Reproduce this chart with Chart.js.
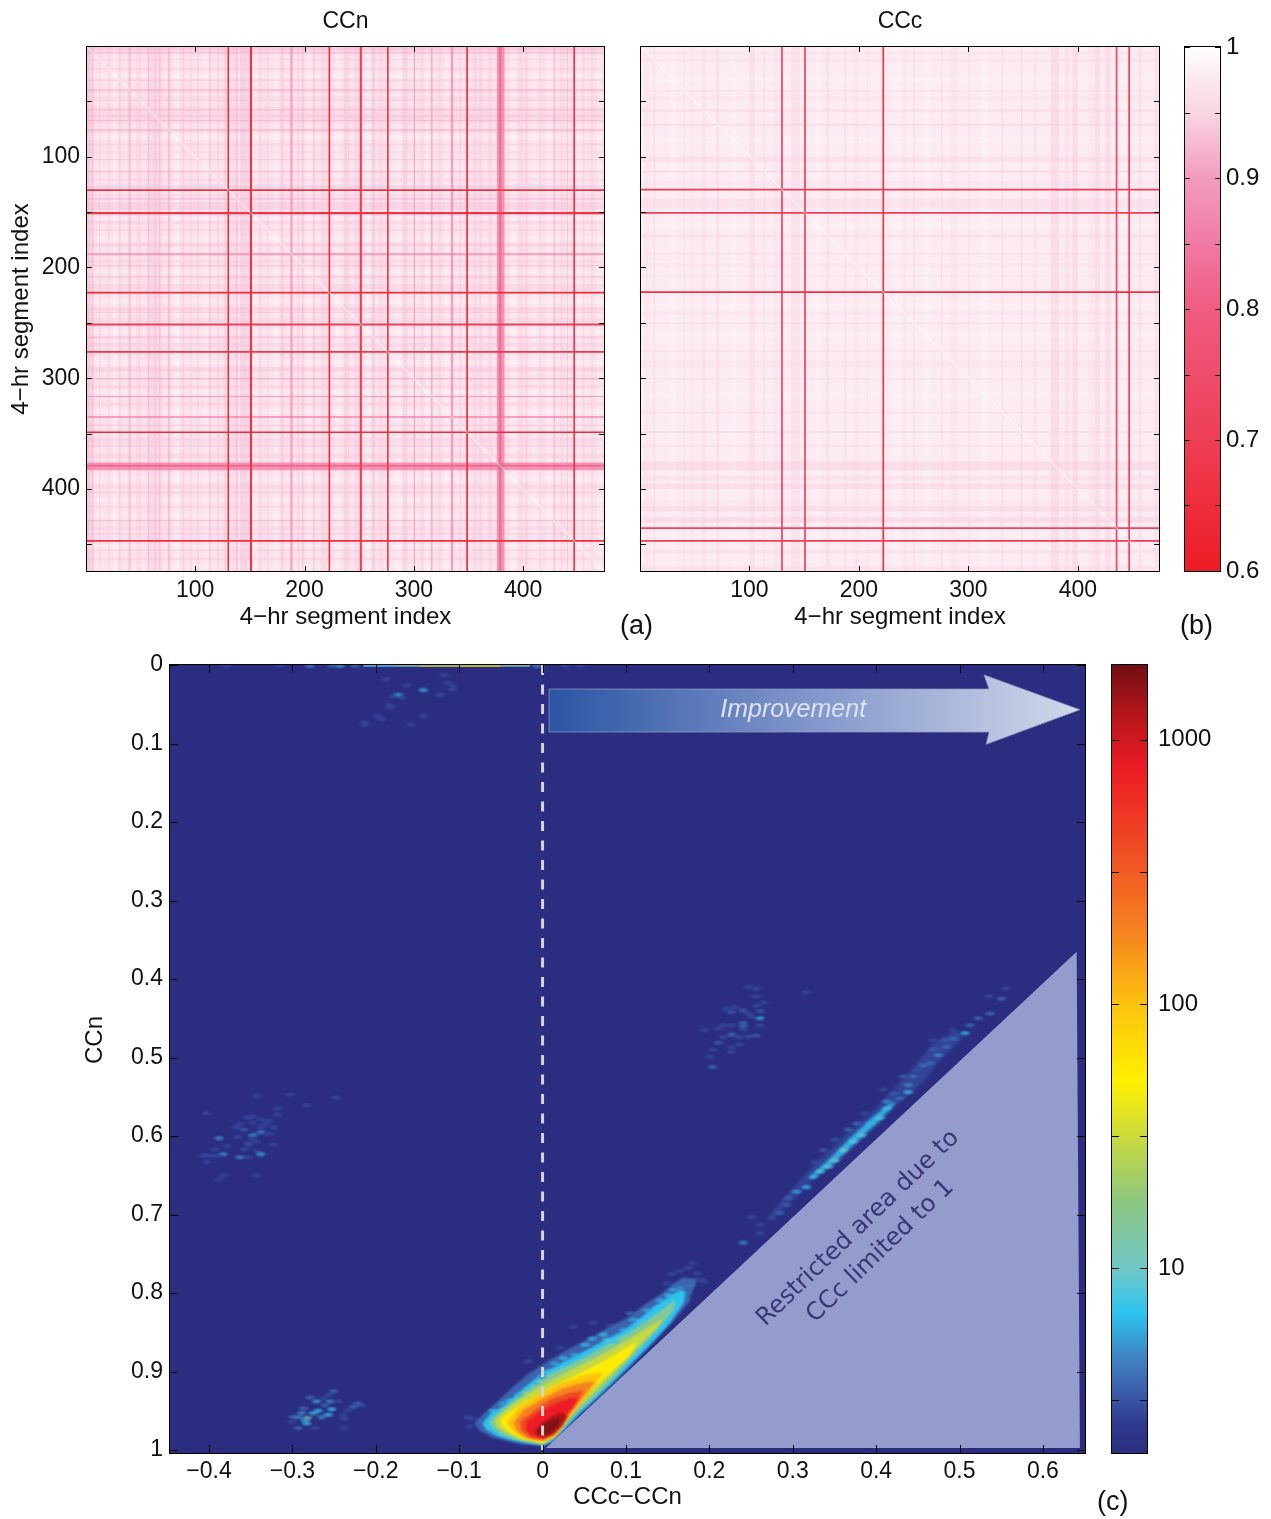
<!DOCTYPE html>
<html>
<head>
<meta charset="utf-8">
<title>CCn CCc</title>
<script src="https://cdn.jsdelivr.net/npm/chart.js@4"></script>
<style>
  body { margin: 0; background: #fff; width: 1271px; height: 1519px; position: relative; overflow: hidden; }
  canvas { position: absolute; }
  .tag { position: absolute; font: 27px 'Liberation Sans'; color: #111; }
</style>
</head>
<body>
<canvas id="chartN" width="612" height="640" style="left:0;top:0"></canvas>
<canvas id="chartC" width="548" height="640" style="left:620px;top:0"></canvas>
<canvas id="barTop" width="96" height="640" style="left:1175px;top:0"></canvas>
<canvas id="chartHist" width="1040" height="869" style="left:60px;top:650px"></canvas>
<canvas id="barLow" width="171" height="869" style="left:1100px;top:650px"></canvas>
<div class="tag" style="left:620px;top:610px">(a)</div>
<div class="tag" style="left:1180px;top:610px">(b)</div>
<div class="tag" style="left:1097px;top:1486px">(c)</div>

<script>
// ————————————————————————————
// DATA: correlation matrices (a) and (b)
// ————————————————————————————
const segMin = 1
const segMax = 474
const segTicksX = [100, 200, 300, 400]
const segTicksY = [50, 100, 150, 200, 250, 300, 350, 400, 450]
const segLabels = [100, 200, 300, 400]

// bad segments show up as stripes on the same index in rows and columns
const stripeStartN = [1, 5, 12, 20, 25, 30, 39, 46, 48, 55, 57, 62, 67, 75, 80, 88, 95, 102, 108, 113, 120, 126, 134, 137, 141, 154, 158, 165, 172, 178, 187, 193, 198, 203, 208, 215, 228, 236, 240, 246, 256, 262, 268, 283, 290, 300, 306, 311, 316, 322, 328, 334, 342, 354, 360, 368, 388, 396, 402, 408, 415, 422, 428, 434, 440, 450, 455, 462, 468, 376, 378, 129.5, 150, 222, 250.5, 275.5, 348, 446]
const stripeEndN   = [4, 7, 13, 22, 29, 32, 41, 47, 50, 70, 58, 65, 68, 77, 85, 90, 97, 103, 111, 114, 122, 128, 136, 139, 148, 157, 161, 167, 176, 181, 189, 196, 199, 206, 209, 220, 233, 239, 241, 249, 260, 264, 272, 288, 294, 301, 309, 314, 317, 325, 332, 336, 343, 358, 362, 372, 394, 400, 404, 412, 417, 426, 429, 437, 441, 453, 456, 464, 472, 383, 380, 131, 152, 223.5, 252.5, 277, 349.5, 447.5]
const stripeValN   = [.91, .9, .93, .94, .99, .93, .89, .94, .93, .945, .9, .93, .9, .89, .99, .93, .94, .92, .99, .89, .94, .93, .94, .91, .93, .99, .94, .94, .99, .93, .87, .94, .88, .99, .89, .94, .99, .93, .92, .94, .99, .91, .94, .99, .93, .87, .94, .99, .86, .94, .99, .86, .92, .94, .93, .94, .99, .94, .93, .99, .94, .99, .88, .94, .91, .99, .93, .94, .99, .84, .8, .66, .67, .64, .7, .68, .64, .66]

const stripeStartC = [5, 12, 28, 40, 46, 57, 70, 82, 100, 113, 122, 138, 160, 170, 187, 196, 207, 232, 240, 250, 258, 275, 284, 300, 312, 330, 348, 360, 375, 388, 395, 410, 415, 425, 440, 455, 470, 129, 150, 221.5, 434.5, 446]
const stripeEndC   = [8, 14, 33, 41, 49, 60, 72, 88, 105, 114, 126, 146, 165, 173, 188, 200, 208, 238, 243, 251, 264, 276, 290, 301, 318, 332, 349, 362, 383, 392, 400, 414, 420, 430, 444, 458, 474, 130.5, 151.5, 223, 436, 447.5]
const stripeValC   = [.96, .95, .99, .94, .96, .95, .94, .99, .95, .93, .96, .95, .99, .95, .94, .96, .95, .99, .96, .94, .99, .94, .96, .94, .99, .95, .93, .95, .94, .95, .94, .96, .94, .94, .99, .95, .95, .7, .7, .66, .72, .7]

const pinkVals = [0.6, 0.7, 0.8, 0.85, 0.9, 0.95, 0.975, 1]
const pinkCols = ['#ed1c24', '#ee3e55', '#ef5b80', '#f07aa5', '#f29cc0', '#f9d5e4', '#fbe8f0', '#ffffff']
const pinkTicks = [0.6, 0.65, 0.7, 0.75, 0.8, 0.85, 0.9, 0.95, 1]
const pinkLabels = [0.6, 0.7, 0.8, 0.9, 1]

// ————————————————————————————
// DATA: 2D histogram (c), [CCc-CCn, CCn] pairs
// ————————————————————————————
const histTicksX = [-0.4, -0.3, -0.2, -0.1, 0, 0.1, 0.2, 0.3, 0.4, 0.5, 0.6]
const histTicksY = [0, 0.1, 0.2, 0.3, 0.4, 0.5, 0.6, 0.7, 0.8, 0.9, 1]
const countVals = [2, 2.6, 3.2, 4.5, 6.8, 10, 18, 31, 51, 100, 190, 400, 770, 1300, 1919]
const countCols = ['#2b2d80', '#2e3a8e', '#3a55a5', '#3f80c0', '#2ec4f0', '#72c8c8', '#8dc880', '#c8da3e', '#fff100', '#fdc20f', '#f58220', '#ef4a24', '#ed1c24', '#b0151a', '#6d0f12']
const countTicks = [3.162, 10, 31.62, 100, 316.2, 1000]
const countLabels = [10, 100, 1000]

const plumeLevels = [3.6, 6.8, 15, 30, 55, 100, 190, 400, 770, 1300, 1700]
const plume3 = [[.001,.995],[-.025,.993],[-.04,.989],[-.06,.984],[-.075,.976],[-.082,.966],[-.072,.955],[-.056,.94],[-.037,.921],[-.017,.903],[.009,.885],[.03,.872],[.053,.86],[.077,.845],[.101,.832],[.121,.816],[.141,.802],[.155,.79],[.168,.78],[.186,.782],[.179,.8],[.176,.811],[.157,.836],[.127,.87],[.098,.902],[.069,.932],[.044,.955],[.025,.977],[.011,.99]]
const plume7 = [[.001,.994],[-.02,.991],[-.036,.988],[-.055,.982],[-.068,.974],[-.072,.966],[-.062,.953],[-.047,.944],[-.029,.927],[-.005,.906],[.021,.89],[.047,.876],[.073,.861],[.097,.848],[.117,.832],[.133,.818],[.149,.806],[.165,.796],[.172,.799],[.169,.813],[.152,.839],[.123,.872],[.093,.904],[.066,.932],[.043,.955],[.023,.977],[.01,.99]]
const plume15 = [[.001,.993],[-.017,.99],[-.032,.987],[-.05,.98],[-.06,.972],[-.064,.964],[-.054,.953],[-.039,.94],[-.021,.924],[.005,.905],[.031,.892],[.057,.878],[.081,.863],[.105,.849],[.125,.835],[.145,.82],[.159,.808],[.157,.822],[.142,.841],[.116,.872],[.089,.904],[.063,.932],[.039,.955],[.021,.977],[.008,.989]]
const plume30 = [[.001,.992],[-.015,.989],[-.029,.986],[-.045,.978],[-.055,.97],[-.057,.962],[-.047,.951],[-.031,.938],[-.013,.925],[.013,.91],[.037,.896],[.061,.884],[.085,.87],[.109,.855],[.129,.842],[.145,.832],[.137,.845],[.113,.87],[.085,.902],[.059,.93],[.035,.953],[.017,.976],[.006,.988]]
const plume55 = [[.001,.991],[-.013,.988],[-.025,.985],[-.04,.977],[-.05,.967],[-.05,.96],[-.037,.95],[-.02,.938],[-.007,.932],[.017,.917],[.045,.902],[.069,.889],[.097,.872],[.113,.862],[.105,.879],[.079,.904],[.055,.926],[.031,.953],[.015,.975],[.005,.987]]
const plume100 = [[.001,.989],[-.012,.987],[-.022,.985],[-.035,.976],[-.043,.965],[-.03,.947],[-.012,.934],[.021,.915],[.053,.904],[.073,.902],[.057,.926],[.037,.953],[.015,.984]]
const plume190 = [[.001,.988],[-.018,.985],[-.03,.977],[-.035,.965],[-.022,.948],[.001,.934],[.025,.921],[.053,.913],[.063,.913],[.049,.932],[.033,.955],[.015,.981]]
const plume400 = [[.001,.987],[-.015,.984],[-.025,.975],[-.027,.964],[-.009,.949],[.009,.936],[.029,.928],[.049,.924],[.043,.936],[.027,.958],[.013,.977]]
const plume770 = [[.001,.985],[-.013,.982],[-.02,.974],[-.019,.964],[-.003,.951],[.015,.941],[.033,.934],[.043,.934],[.037,.945],[.025,.96],[.011,.977]]
const plume1300 = [[-.006,.982],[-.01,.976],[-.001,.966],[.011,.957],[.023,.952],[.03,.957],[.023,.97],[.013,.98],[.003,.984]]
const plume1700 = [[-.003,.98],[-.006,.975],[.003,.967],[.014,.96],[.022,.959],[.018,.97],[.008,.979]]
const plumes = [plume3, plume7, plume15, plume30, plume55, plume100, plume190, plume400, plume770, plume1300, plume1700]

// long thin tail along the limit
const streakLevels = [2.8, 6]
const streakOuter = [[.2747,.707],[.3046,.6773],[.3246,.6561],[.3487,.6391],[.3766,.6115],[.4046,.5839],[.4285,.5563],[.4445,.5436],[.4605,.5266],[.4765,.5032],[.5045,.4756],[.4965,.465],[.4685,.482],[.4485,.5075],[.4325,.5266],[.4126,.5499],[.3886,.5754],[.3646,.5966],[.3446,.6179],[.3266,.6349],[.3086,.6561],[.2887,.6795],[.2707,.7028]]
const streakCore = [[.3207,.6561],[.3487,.6349],[.3766,.6073],[.4046,.5797],[.4245,.5563],[.4165,.5584],[.3966,.5754],[.3686,.603],[.3446,.6285],[.3246,.6476]]

// [x, y, count]
const specksPlume = [[-.017,.887,3],[-.003,.907,3],[-.029,.921,3],[.021,.87,3],[.037,.843,3],[.061,.838,3],[.081,.841,3],[.105,.826,4],[.149,.788,3],[.161,.79,4],[.173,.792,4],[.189,.783,3],[.193,.785,3],[-.085,.96,3],[-.087,.97,3],[-.09,.958,3],[.165,.772,3],[.175,.768,3],[.185,.775,3],[.155,.776,3],[.18,.762,3]]
const specksRim = [[-.059,.95,7],[-.047,.941,6],[-.039,.937,7],[-.029,.93,6],[-.017,.922,7],[-.009,.915,6],[-.001,.907,5],[.006,.9,7],[.015,.89,6],[.025,.883,7],[.039,.879,6],[.051,.866,7],[.059,.858,6],[.073,.853,7],[.077,.86,8],[.087,.862,7],[.097,.847,6],[.101,.851,8],[.109,.834,6],[.119,.836,8],[.125,.822,6],[.137,.819,7],[.141,.809,6],[.151,.803,7],[.157,.796,6],[.165,.794,5],[.177,.79,4]]
const specksEdge = [[-.379,.001,3],[-.315,.001,3],[-.279,.001,5],[-.253,.001,4],[-.243,.001,6],[-.225,.001,4],[-.007,.001,5],[.027,.001,3],[.045,.001,3]]
const specksTop = [[-.188,.018,3],[-.163,.026,3],[-.143,.032,6],[-.173,.038,6],[-.179,.04,3],[-.168,.042,3],[-.123,.038,3],[-.118,.013,3],[-.113,.023,3],[-.108,.027,3],[-.108,.031,3],[-.183,.051,3],[-.183,.054,3],[-.198,.065,3],[-.193,.069,3],[-.143,.065,3],[-.213,.073,3],[-.213,.076,3],[-.158,.076,3]]
const specksLeft = [[-.343,.549,3],[-.303,.547,3],[-.248,.551,3],[-.283,.561,3],[-.318,.565,3],[-.318,.573,3],[-.403,.571,3],[-.348,.575,3],[-.353,.577,3],[-.338,.579,3],[-.328,.581,3],[-.363,.585,3],[-.333,.585,3],[-.348,.583,3],[-.368,.589,3],[-.338,.589,3],[-.323,.589,3],[-.358,.592,3.5],[-.338,.595,5],[-.343,.597,3],[-.348,.599,5],[-.328,.597,3],[-.365,.601,3],[-.388,.603,5],[-.348,.603,3],[-.343,.607,3],[-.353,.61,3.5],[-.323,.611,3],[-.378,.613,3],[-.393,.617,3],[-.358,.617,3],[-.343,.619,3],[-.338,.623,6],[-.383,.623,5],[-.406,.625,3],[-.401,.625,3],[-.393,.625,3],[-.363,.627,5],[-.353,.627,3],[-.403,.633,3],[-.383,.65,3],[-.343,.65,3],[-.388,.655,3]]
const specksLow = [[-.282,.959,15],[-.269,.95,7],[-.253,.948,7],[-.255,.938,5],[-.271,.938,6],[-.279,.933,4],[-.251,.925,4],[-.245,.938,3],[-.227,.945,4],[-.221,.941,4],[-.217,.943,3],[-.233,.949,3],[-.239,.955,3],[-.238,.96,3],[-.257,.955,7],[-.265,.958,5],[-.293,.958,5],[-.299,.958,4],[-.301,.964,3],[-.283,.966,7],[-.293,.972,4],[-.273,.972,3],[-.238,.972,3],[-.287,.947,4],[-.289,.953,5],[-.261,.943,4],[-.275,.953,7],[-.285,.962,6],[-.263,.934,3],[-.257,.93,3]]
const specksMid = [[.2466,.41,3],[.2559,.412,3],[.3158,.417,3],[.2559,.422,3],[.2207,.438,3],[.2307,.436,3],[.2406,.44,3.5],[.2266,.442,3.5],[.2607,.441,3.5],[.2566,.434,3],[.2655,.43,3],[.2466,.444,3],[.2506,.448,3],[.2607,.45,6],[.2166,.459,3],[.2266,.459,3],[.2406,.456,4],[.2406,.46,4],[.2607,.459,3],[.2406,.464,3],[.1947,.465,3],[.2106,.463,3],[.2266,.471,4],[.2166,.474,3],[.2358,.474,3],[.2466,.473,3],[.2559,.472,3.5],[.2106,.481,3.5],[.2358,.483,3],[.2047,.49,3],[.2266,.487,3],[.2266,.493,3],[.2007,.499,3],[.2039,.512,4]]
const specksStreak = [[.2407,.736,5],[.2507,.703,3],[.2607,.713,3],[.2607,.724,3],[.2747,.705,3],[.2847,.698,4],[.2927,.688,3.5],[.2946,.679,3.5],[.3046,.671,6],[.3165,.665,7],[.3246,.652,7],[.3326,.645,8],[.3426,.639,9],[.3506,.631,10],[.3605,.618,10],[.3725,.607,9],[.3825,.599,9],[.3926,.584,6],[.4046,.577,8],[.4126,.565,7],[.4126,.556,5],[.4285,.552,4],[.4385,.544,7],[.4385,.535,5],[.4445,.524,4],[.4565,.51,4],[.4645,.507,4],[.4745,.497,5],[.4844,.486,4],[.4924,.476,4],[.5065,.469,7],[.5125,.459,4],[.5224,.45,4],[.5365,.444,4],[.5506,.425,4],[.5556,.412,3],[.5356,.422,3],[.3266,.633,3],[.3366,.618,3.5],[.3506,.605,3.5],[.3665,.592,4],[.3765,.584,4],[.3866,.571,3],[.4085,.541,3],[.4205,.546,3.5],[.4325,.524,3.5],[.4485,.516,3],[.4685,.478,3],[.4924,.465,3],[.4685,.49,3.5],[.4825,.478,3.5]]

const edgeX = [-0.215, -0.177, -0.147, -0.1, -0.051, -0.015]
const edgeY = [0.0012, 0.0012, 0.0012, 0.0012, 0.0012, 0.0012]
const edgeN = [8, 15, 35, 40, 15, 8]

const limitX = [0.004, 0.6405, 0.6444]
const limitY = [0.9975, 0.3652, 0.9975]
const arrowX = [0.0077, 0.5355, 0.5295, 0.6444, 0.532, 0.5355, 0.0077]
const arrowY = [0.0306, 0.0306, 0.0127, 0.057, 0.101, 0.0854, 0.0854]

// ————————————————————————————
// HELPERS
// ————————————————————————————
const FONT = "'Liberation Sans'"
const tickFont = { family: FONT, size: 23 }
const barFont = { family: FONT, size: 24 }
const labelFont = { family: FONT, size: 24 }

const hexToRgb = h => [1, 3, 5].map(i => parseInt(h.substr(i, 2), 16))

function ramp(vals, cols, v, log) {
  const f = log ? Math.log10 : (a => a)
  let i = 0
  while (i < vals.length - 2 && v > vals[i + 1]) i++
  const t = Math.min(1, Math.max(0, (f(v) - f(vals[i])) / (f(vals[i + 1]) - f(vals[i]))))
  const a = hexToRgb(cols[i]), b = hexToRgb(cols[i + 1])
  return a.map((c, k) => Math.round(c + (b[k] - c) * t))
}
const pinkColor = (v, alpha) => `rgba(${ramp(pinkVals, pinkCols, v, false).join(',')},${alpha})`
const countColor = n => `rgb(${ramp(countVals, countCols, n, true).join(',')})`

// soft little blob for a histogram speck, one per colour
const spriteCache = {}
function speckSprite(n) {
  if (spriteCache[n]) return spriteCache[n]
  const c = document.createElement('canvas')
  c.width = 13
  c.height = 7
  const g = c.getContext('2d')
  const rgb = ramp(countVals, countCols, n, true).join(',')
  g.translate(6.5, 3.5)
  g.scale(1, 0.5)
  const rad = g.createRadialGradient(0, 0, 0, 0, 0, 6.5)
  rad.addColorStop(0, `rgba(${rgb},.8)`)
  rad.addColorStop(0.5, `rgba(${rgb},.5)`)
  rad.addColorStop(1, `rgba(${rgb},0)`)
  g.fillStyle = rad
  g.fillRect(-7, -7, 14, 14)
  spriteCache[n] = c
  return c
}

function forceTicks(values) {
  return scale => { scale.ticks = values.map(v => ({ value: v })) }
}

// fixed axis size, and no extra room for labels that stick out of the plot
function fixSize(key, size) {
  return s => {
    s[key] = size
    s.paddingTop = s.paddingBottom = s.paddingLeft = s.paddingRight = 0
  }
}

const flatGrid = { drawOnChartArea: false, drawTicks: false }

// matlab style box: frame plus short ticks pointing inward on both sides
const framePlugin = {
  id: 'frame',
  beforeDatasetsDraw(chart, args, opts) {
    if (!opts.bg) return
    const a = chart.chartArea
    chart.ctx.fillStyle = opts.bg
    chart.ctx.fillRect(a.left, a.top, a.right - a.left, a.bottom - a.top)
  },
  afterDatasetsDraw(chart, args, opts) {
    const { ctx, chartArea: a, scales } = chart
    const len = opts.len || 5
    ctx.save()
    ctx.strokeStyle = '#000'
    ctx.lineWidth = 1
    ctx.beginPath()
    if (scales.x.options.display) scales.x.ticks.forEach(t => {
      const p = Math.round(scales.x.getPixelForValue(t.value)) + .5
      ctx.moveTo(p, a.top)
      ctx.lineTo(p, a.top + len)
      ctx.moveTo(p, a.bottom)
      ctx.lineTo(p, a.bottom - len)
    })
    scales.y.ticks.forEach(t => {
      const p = Math.round(scales.y.getPixelForValue(t.value)) + .5
      ctx.moveTo(a.left, p)
      ctx.lineTo(a.left + len, p)
      ctx.moveTo(a.right, p)
      ctx.lineTo(a.right - len, p)
    })
    ctx.stroke()
    ctx.strokeRect(a.left - .5, a.top - .5, a.right - a.left + 1, a.bottom - a.top + 1)
    ctx.restore()
  }
}

// plume contours get blurred so the steps between levels don't show.
// has to run before the filler, so the filler gets registered again after it
const blurPlugin = {
  id: 'contourBlur',
  beforeDatasetDraw(chart, args) {
    const ds = chart.data.datasets[args.index]
    if (ds.blurPx) chart.ctx.filter = `blur(${ds.blurPx}px)`
  },
  afterDatasetDraw(chart, args) {
    const ds = chart.data.datasets[args.index]
    if (ds.blurPx) chart.ctx.filter = 'none'
  }
}
const filler = Chart.registry.plugins.get('filler')
Chart.unregister(filler)
Chart.register(blurPlugin, filler)

// arrow and the note in the restricted area
const notesPlugin = {
  id: 'notes',
  afterDatasetsDraw(chart) {
    const { ctx, scales: { x, y } } = chart
    const px = v => x.getPixelForValue(v)
    const py = v => y.getPixelForValue(v)
    ctx.save()
    const grad = ctx.createLinearGradient(px(arrowX[0]), 0, px(arrowX[3]), 0)
    grad.addColorStop(0, '#2a55a3')
    grad.addColorStop(0.45, '#7a90c8')
    grad.addColorStop(1, '#d2d9ea')
    ctx.beginPath()
    arrowX.forEach((v, i) => ctx.lineTo(px(v), py(arrowY[i])))
    ctx.closePath()
    ctx.fillStyle = grad
    ctx.fill()
    ctx.strokeStyle = 'rgba(150,160,190,.7)'
    ctx.lineWidth = 1
    ctx.stroke()
    ctx.fillStyle = '#dfe3f0'
    ctx.font = `italic 25px ${FONT}`
    ctx.textAlign = 'center'
    ctx.textBaseline = 'middle'
    ctx.fillText('Improvement', px(0.3005), py(0.0575))

    ctx.save()
    ctx.fillStyle = '#3b3675'
    ctx.font = '24.3px "DejaVu Sans"'
    ctx.translate(px(0.3785), py(0.7175))
    ctx.rotate(-44 * Math.PI / 180)
    ctx.fillText('Restricted area due to', 0, 0)
    ctx.fillText('CCc limited to 1', 0, 32)
    ctx.restore()

    // y label of this panel sits above the middle of the axis
    ctx.fillStyle = '#111'
    ctx.font = `24px ${FONT}`
    ctx.translate(35, 390)
    ctx.rotate(-Math.PI / 2)
    ctx.fillText('CCn', 0, 0)
    ctx.restore()
  }
}

// ————————————————————————————
// MATRICI (a) e (b)
// ————————————————————————————
function stripeAlpha(v) {
  if (v < 0.8) return 1
  if (v < 0.88) return 0.7
  return 0.42
}

function stripeSets(starts, ends, vals) {
  const sets = []
  starts.forEach((s, i) => {
    const e = ends[i]
    const common = {
      type: 'scatter', showLine: true, borderWidth: 0, pointRadius: 0, fill: 'shape',
      backgroundColor: pinkColor(vals[i], stripeAlpha(vals[i])),
      order: Math.round(vals[i] * 1000)
    }
    sets.push({ ...common, data: [{ x: s, y: segMin }, { x: e, y: segMin }, { x: e, y: segMax }, { x: s, y: segMax }] })
    sets.push({ ...common, data: [{ x: segMin, y: s }, { x: segMin, y: e }, { x: segMax, y: e }, { x: segMax, y: s }] })
  })
  sets.push({
    type: 'scatter', showLine: true, pointRadius: 0, borderWidth: 1.2, borderColor: 'rgba(255,255,255,.6)', order: 0,
    data: [{ x: segMin, y: segMin }, { x: segMax, y: segMax }]
  })
  return sets
}

function matrixChart(id, title, sets, opt) {
  return new Chart(document.getElementById(id), {
    type: 'scatter',
    data: { datasets: sets },
    plugins: [framePlugin],
    options: {
      responsive: false,
      animation: false,
      events: [],
      layout: { padding: { right: opt.right } },
      plugins: {
        legend: { display: false },
        tooltip: { enabled: false },
        title: { display: true, text: title, color: '#111', fullSize: false, font: { family: FONT, size: 23, weight: 'normal' }, padding: { top: 8.2, bottom: 11.2 } },
        frame: { bg: opt.bg, len: 5 }
      },
      scales: {
        x: {
          type: 'linear', min: segMin, max: segMax,
          afterBuildTicks: forceTicks(segTicksX),
          afterFit: fixSize('height', 69),
          grid: flatGrid, border: { display: false },
          ticks: { font: tickFont, color: '#111', padding: 6, maxRotation: 0, autoSkip: false, callback: v => String(v) },
          title: { display: true, text: '4\u2212hr segment index', color: '#111', font: labelFont, padding: { bottom: 8.6 } }
        },
        y: {
          type: 'linear', reverse: true, min: segMin, max: segMax,
          afterBuildTicks: forceTicks(segTicksY),
          afterFit: fixSize('width', opt.left),
          grid: flatGrid, border: { display: false },
          ticks: { display: opt.showY, font: tickFont, color: '#111', padding: 7, autoSkip: false, callback: v => segLabels.includes(v) ? String(v) : '' },
          title: { display: opt.showY, text: '4\u2212hr segment index', color: '#111', font: labelFont, padding: { top: 6.6 } }
        }
      }
    }
  })
}

matrixChart('chartN', 'CCn', stripeSets(stripeStartN, stripeEndN, stripeValN), { left: 87, right: 8, showY: true, bg: '#fbe1eb' })
matrixChart('chartC', 'CCc', stripeSets(stripeStartC, stripeEndC, stripeValC), { left: 21, right: 9, showY: false, bg: '#fcebf2' })

// ————————————————————————————
// COLORBAR
// ————————————————————————————
function colorBar(id, o) {
  return new Chart(document.getElementById(id), {
    type: 'bar',
    data: {
      labels: [''],
      datasets: [{
        data: [[o.min, o.max]],
        barPercentage: 1,
        categoryPercentage: 1,
        backgroundColor: c => {
          const y = c.chart.scales.y
          if (!y || !c.chart.chartArea) return o.cols[0]
          const a = c.chart.chartArea
          const g = c.chart.ctx.createLinearGradient(0, a.top, 0, a.bottom)
          o.vals.forEach((v, i) => {
            const t = (y.getPixelForValue(v) - a.top) / (a.bottom - a.top)
            g.addColorStop(Math.min(1, Math.max(0, t)), o.cols[i])
          })
          return g
        }
      }]
    },
    plugins: [framePlugin],
    options: {
      responsive: false,
      animation: false,
      events: [],
      layout: { padding: { left: o.left, top: o.top, bottom: o.bottom } },
      plugins: { legend: { display: false }, tooltip: { enabled: false }, frame: { len: o.len } },
      scales: {
        x: { display: false, offset: true },
        y: {
          type: o.type, position: 'right', min: o.min, max: o.max,
          afterBuildTicks: forceTicks(o.ticks),
          afterFit: fixSize('width', o.axis),
          grid: flatGrid, border: { display: false },
          ticks: { font: barFont, color: '#111', padding: o.pad, autoSkip: false, maxRotation: 0, callback: v => o.labels.includes(v) ? String(v) : '' }
        }
      }
    }
  })
}

colorBar('barTop', { type: 'linear', min: 0.6, max: 1, vals: pinkVals, cols: pinkCols, ticks: pinkTicks, labels: pinkLabels, left: 10, top: 47, bottom: 69, axis: 51, pad: 6, len: 5 })
colorBar('barLow', { type: 'logarithmic', min: 2, max: 1919, vals: countVals, cols: countCols, ticks: countTicks, labels: countLabels, left: 12, top: 15, bottom: 66, axis: 124, pad: 11, len: 7 })

// ————————————————————————————
// ISTOGRAMMA (c)
// ————————————————————————————
const histSets = []

plumes.forEach((poly, i) => {
  histSets.push({
    showLine: true, borderWidth: 0, pointRadius: 0, fill: 'shape', blurPx: i < 3 ? 1.2 : 1,
    backgroundColor: countColor(plumeLevels[i]),
    order: 100 - i,
    data: poly.map(p => ({ x: p[0], y: p[1] }))
  })
})

;[streakOuter, streakCore].forEach((poly, i) => {
  histSets.push({
    showLine: true, borderWidth: 0, pointRadius: 0, fill: 'shape', blurPx: 1.5,
    backgroundColor: countColor(streakLevels[i]),
    order: 120 - i,
    data: poly.map(p => ({ x: p[0], y: p[1] }))
  })
})

;[specksPlume, specksEdge, specksTop, specksLeft, specksLow, specksMid, specksStreak].forEach(list => {
  histSets.push({
    pointRadius: 3,
    pointStyle: list.map(p => speckSprite(p[2])),
    order: 110,
    data: list.map(p => ({ x: p[0], y: p[1] }))
  })
})

// rim dots go over the outer contours, not over the bright middle
histSets.push({
  pointRadius: 3,
  pointStyle: specksRim.map(p => speckSprite(p[2])),
  order: 97.5,
  data: specksRim.map(p => ({ x: p[0], y: p[1] }))
})

histSets.push({
  showLine: true, pointRadius: 0, borderWidth: 1.5, order: 150,
  segment: { borderColor: c => countColor(edgeN[c.p0DataIndex]) },
  data: edgeX.map((v, i) => ({ x: v, y: edgeY[i] }))
})

histSets.push({
  showLine: true, borderWidth: 0, pointRadius: 0, fill: 'shape', backgroundColor: '#949bcd', order: 5,
  data: limitX.map((v, i) => ({ x: v, y: limitY[i] }))
})

histSets.push({
  showLine: true, pointRadius: 0, borderWidth: 3, borderColor: '#d4d4d4', borderDash: [10, 9.5], order: 1,
  data: [{ x: 0, y: 0 }, { x: 0, y: 1 }]
})

new Chart(document.getElementById('chartHist'), {
  type: 'scatter',
  data: { datasets: histSets },
  plugins: [framePlugin, notesPlugin],
  options: {
    responsive: false,
    animation: false,
    events: [],
    layout: { padding: { top: 15, right: 15 } },
    plugins: {
      legend: { display: false },
      tooltip: { enabled: false },
      frame: { bg: '#2b2d80', len: 8 }
    },
    scales: {
      x: {
        type: 'linear', min: -0.4468, max: 0.6505,
        afterBuildTicks: forceTicks(histTicksX),
        afterFit: fixSize('height', 66),
        grid: flatGrid, border: { display: false },
        ticks: { font: tickFont, color: '#111', padding: 5, maxRotation: 0, autoSkip: false, callback: v => String(v).replace('-', '\u2212') },
        title: { display: true, text: 'CCc\u2212CCn', color: '#111', font: labelFont, padding: { bottom: 7.6 } }
      },
      y: {
        type: 'linear', reverse: true, min: 0, max: 1.0038,
        afterBuildTicks: forceTicks(histTicksY),
        afterFit: fixSize('width', 110),
        grid: flatGrid, border: { display: false },
        ticks: { font: tickFont, color: '#111', padding: 7, autoSkip: false, callback: v => String(v) }
      }
    }
  }
})
</script>
</body>
</html>
